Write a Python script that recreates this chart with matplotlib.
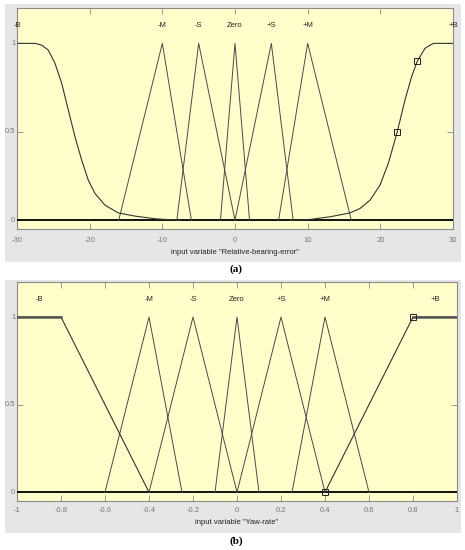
import matplotlib
matplotlib.use("Agg")
import matplotlib.pyplot as plt
from matplotlib.patches import Rectangle

# ---------------- data: panel (a) Relative-bearing-error ----------------
a_xticks = [-30, -20, -10, 0, 10, 20, 30]
a_tick_labels = ["-30", "-20", "-10", "0", "10", "20", "30"]
a_tri_names = ["-M", "-S", "Zero", "+S", "+M"]
a_tri_params = [[-16, -10, -6], [-8, -5, 0], [-2, 0, 2], [0, 5, 8], [6, 10, 16]]
a_negB_x = [-30, -27.5, -26.6, -25.7, -24.77, -23.85, -22.94, -22.02, -21.1,
            -20.19, -19.27, -17.9, -16.06, -13.76, -11.0, -10.0, -7.5]
a_negB_y = [1.0, 1.0, 0.99, 0.962, 0.887, 0.774, 0.623, 0.472, 0.34,
            0.226, 0.151, 0.085, 0.041, 0.023, 0.008, 0.005, 0.0]
a_posB_x = [7.5, 10.3, 13.07, 15.82, 17.2, 18.58, 19.95, 21.1, 22.33, 23.39,
            24.3, 25.09, 26.15, 27.29, 30]
a_posB_y = [0.0, 0.004, 0.019, 0.041, 0.066, 0.113, 0.198, 0.321, 0.5, 0.679,
            0.811, 0.9, 0.972, 1.0, 1.0]
a_markers_x = [22.33, 25.09]
a_markers_y = [0.5, 0.9]
a_B_label_x = [-30, 30]
a_xlabel = 'input variable "Relative-bearing-error"'

# ---------------- data: panel (b) Yaw-rate ----------------
b_xticks = [-1, -0.8, -0.6, -0.4, -0.2, 0, 0.2, 0.4, 0.6, 0.8, 1]
b_tick_labels = ["-1", "-0.8", "-0.6", "-0.4", "-0.2", "0", "0.2", "0.4", "0.6", "0.8", "1"]
b_tri_names = ["-M", "-S", "Zero", "+S", "+M"]
b_tri_params = [[-0.6, -0.4, -0.25], [-0.4, -0.2, 0], [-0.1, 0, 0.1], [0, 0.2, 0.4], [0.25, 0.4, 0.6]]
b_negB_x = [-1, -0.8, -0.4]
b_negB_y = [1, 1, 0]
b_posB_x = [0.4, 0.8, 1]
b_posB_y = [0, 1, 1]
b_markers_x = [0.4, 0.8]
b_markers_y = [0, 1]
b_B_label_x = [-0.9, 0.9]
b_xlabel = 'input variable "Yaw-rate"'

yticks = [0, 0.5, 1]
ytick_labels = ["0", "0.5", "1"]

FIG_W, FIG_H = 465, 550
fig = plt.figure(figsize=(FIG_W / 100, FIG_H / 100), dpi=100)
fig.patch.set_facecolor("white")

narrow = ["Liberation Sans Narrow", "Liberation Sans", "DejaVu Sans"]
GRAY_BG = "#e6e6e6"
AX_BG = "#ffffcc"
LINE_C = "#4a4a4a"


def fx(px):
    return px / FIG_W


def fy(py):
    return 1 - py / FIG_H


def panel(box, axbox, xlim, xticks, xtl, tri_params, tri_names, negB, posB, mk,
          Blab, xlabel, caption, tick_y, xlabel_y, cap_y, thickB):
    # gray frame
    x0, y0, x1, y1 = box
    fig.patches.append(Rectangle((fx(x0), fy(y1)), fx(x1 - x0), (y1 - y0) / FIG_H,
                                 transform=fig.transFigure, facecolor=GRAY_BG,
                                 edgecolor="none", zorder=-5))
    l, t, r, b = axbox
    ax = fig.add_axes([fx(l), fy(b), fx(r - l), (b - t) / FIG_H])
    ax.set_zorder(2)
    ax.set_facecolor(AX_BG)
    ax.set_xlim(*xlim)
    ax.set_ylim(-0.05, 1.2)
    for s in ax.spines.values():
        s.set_color("#8a8a8a")
        s.set_linewidth(0.8)
    ax.set_xticks(xticks)
    ax.set_xticklabels([])
    ax.set_yticks(yticks)
    ax.set_yticklabels([])
    ax.tick_params(direction="in", length=4, width=0.6, color="#8a8a8a",
                   top=True, right=True)
    # tick labels
    for xv, lab in zip(xticks, xtl):
        ax.text(xv, -(tick_y - b) / (b - t), lab, transform=ax.get_xaxis_transform(),
                ha="center", va="center", fontsize=5.5, color="#777777",
                family=narrow, clip_on=False)
    for yv, lab in zip(yticks, ytick_labels):
        ax.text(-0.004, yv, lab, transform=ax.get_yaxis_transform(), ha="right",
                va="center", fontsize=5.5, color="#777777", family=narrow)
    # baseline
    ax.axhline(0, color="black", lw=1.3, zorder=3)
    # triangles
    for (p0, p1, p2), name in zip(tri_params, tri_names):
        ax.plot([p0, p1, p2], [0, 1, 0], color=LINE_C, lw=0.7, zorder=4)
        ax.text(p1, 1.1, name, ha="center", va="center", fontsize=5.5,
                family=narrow, color="#222222")
    ax.plot(negB[0], negB[1], color="#333333", lw=0.8, zorder=4)
    ax.plot(posB[0], posB[1], color="#333333", lw=0.8, zorder=4)
    if thickB:
        ax.plot(negB[0][:2], negB[1][:2], color="#555555", lw=1.8, zorder=4)
        ax.plot(posB[0][-2:], posB[1][-2:], color="#555555", lw=1.8, zorder=4)
    ax.plot(mk[0], mk[1], ls="none", marker="s", ms=4.5, mfc="none",
            mec="#222222", mew=0.7, zorder=5, clip_on=False)
    ax.text(Blab[0], 1.1, "-B", ha="center", va="center", fontsize=5.5,
            family=narrow, color="#222222")
    ax.text(Blab[1], 1.1, "+B", ha="center", va="center", fontsize=5.5,
            family=narrow, color="#222222")
    xc = (l + r) / 2
    fig.text(fx(xc), fy(xlabel_y), xlabel, ha="center", va="center",
             fontsize=5.5, family=narrow, color="#222222")
    fig.text(fx(236), fy(cap_y), caption, ha="center", va="center",
             fontsize=8, family=["Liberation Serif", "DejaVu Serif"],
             fontweight="bold", color="black")
    return ax


panel((5, 4, 461, 262), (17, 8, 453, 229), (-30, 30), a_xticks, a_tick_labels,
      a_tri_params, a_tri_names, (a_negB_x, a_negB_y), (a_posB_x, a_posB_y),
      (a_markers_x, a_markers_y), a_B_label_x, a_xlabel, "(a)",
      240, 252, 269, False)

panel((5, 280, 461, 533), (17, 282, 457, 501), (-1, 1), b_xticks, b_tick_labels,
      b_tri_params, b_tri_names, (b_negB_x, b_negB_y), (b_posB_x, b_posB_y),
      (b_markers_x, b_markers_y), b_B_label_x, b_xlabel, "(b)",
      510, 523, 541, True)

fig.savefig("out.png", dpi=100)
